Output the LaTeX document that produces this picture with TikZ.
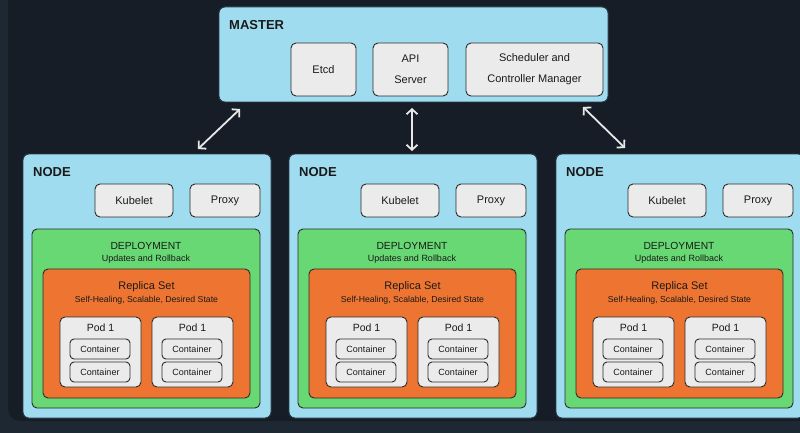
\documentclass[tikz,border=0pt]{standalone}
\usepackage{fontspec}
\setmainfont{Liberation Sans}
\usetikzlibrary{arrows.meta}
\definecolor{bgouter}{HTML}{1E2833}
\definecolor{bgdark}{HTML}{171D26}
\definecolor{skyfill}{HTML}{9FDCF0}
\definecolor{skyline}{HTML}{2A3A46}
\definecolor{greenfill}{HTML}{67D873}
\definecolor{orangefill}{HTML}{EE7431}
\definecolor{grayfill}{HTML}{EBEBEB}
\definecolor{boxline}{HTML}{2B2B2B}
\definecolor{txt}{HTML}{1A1A1A}
\definecolor{arrowcol}{HTML}{E8E8E8}
\tikzset{
  box/.style={anchor=north west, inner sep=0pt, outer sep=0pt, line width=0.9pt, draw=boxline},
  skybox/.style={box, fill=skyfill, draw=skyline, rounded corners=6pt},
  greenbox/.style={box, fill=greenfill, rounded corners=5pt},
  orangebox/.style={box, fill=orangefill, rounded corners=5pt},
  graybox/.style={box, fill=grayfill, rounded corners=5pt},
  ctbox/.style={box, fill=grayfill, rounded corners=4pt, minimum width=60pt, minimum height=20pt, font=\fontsize{9}{10}\selectfont, text=txt},
  title/.style={anchor=west, inner sep=0pt, font=\bfseries\fontsize{13}{15}\selectfont, text=txt},
  lbl/.style={inner sep=0pt, text=txt},
  biarrow/.style={draw=arrowcol, line width=1.8pt, {Straight Barb[length=5pt,width=11pt]}-{Straight Barb[length=5pt,width=11pt]}}
}
\begin{document}
\begin{tikzpicture}[x=1pt,y=-1pt]
\useasboundingbox (0,0) rectangle (800,433);
\clip (0,0) rectangle (800,433);
\fill[bgouter] (0,0) rectangle (800,433);
\fill[bgdark, rounded corners=12pt] (8,-30) -- (8,421) -- (830,421) -- (830,-30) -- cycle;

% MASTER
\node[skybox, minimum width=389pt, minimum height=95pt] (master) at (219,7) {};
\node[title] (mastert) at (229,25) {MASTER};
\node[graybox, minimum width=65pt, minimum height=53pt, font=\fontsize{11}{21}\selectfont, text=txt] (etcd) at (291,43) {Etcd};
\node[graybox, minimum width=75pt, minimum height=53pt, align=center, font=\fontsize{11}{21}\selectfont, text=txt] (api) at (373,43) {API\\Server};
\node[graybox, minimum width=137pt, minimum height=53pt, align=center, font=\fontsize{11}{21}\selectfont, text=txt] (sched) at (466,43) {Scheduler and\\Controller Manager};

% NODES
\foreach \i/\dx in {1/0,2/266,3/533}{
  \node[skybox, minimum width=248pt, minimum height=264pt] (n\i) at ({23+\dx},154) {};
  \node[title] (n\i t) at ({33+\dx},172) {NODE};
  \node[graybox, minimum width=78pt, minimum height=33pt, font=\fontsize{11}{13}\selectfont, text=txt] (n\i k) at ({95+\dx},184) {Kubelet};
  \node[graybox, minimum width=70pt, minimum height=33pt, font=\fontsize{11}{13}\selectfont, text=txt] (n\i p) at ({190+\dx},184) {\raisebox{1pt}{Proxy}};
  \node[greenbox, minimum width=228pt, minimum height=179pt] (n\i d) at ({32+\dx},229) {};
  \node[lbl, font=\fontsize{10.3}{12}\selectfont] (n\i dt) at ({146+\dx},246) {DEPLOYMENT};
  \node[lbl, font=\fontsize{9}{10}\selectfont] (n\i ds) at ({146+\dx},259) {Updates and Rollback};
  \node[orangebox, minimum width=207pt, minimum height=129pt] (n\i r) at ({43+\dx},269) {};
  \node[lbl, font=\fontsize{11}{12}\selectfont] (n\i rt) at ({146.5+\dx},287) {Replica Set};
  \node[lbl, font=\fontsize{8.7}{10}\selectfont] (n\i rs) at ({146.5+\dx},300) {Self-Healing, Scalable, Desired State};
  \foreach \j/\px in {a/0,b/92}{
    \node[graybox, minimum width=81pt, minimum height=70pt] (n\i p\j) at ({60+\dx+\px},317) {};
    \node[lbl, font=\fontsize{10.5}{12}\selectfont] (n\i p\j t) at ({100.5+\dx+\px},328) {Pod 1};
    \node[ctbox] (n\i p\j c1) at ({70+\dx+\px},339) {Container};
    \node[ctbox] (n\i p\j c2) at ({70+\dx+\px},362) {Container};
  }
}

% ARROWS
\coordinate (a1m) at (240,109);
\coordinate (a1n) at (198,149);
\coordinate (a2m) at (412,108);
\coordinate (a2n) at (412,151);
\coordinate (a3m) at (583,107);
\coordinate (a3n) at (625,148);
\draw[biarrow] (a1n) -- (a1m);
\draw[biarrow] (a2n) -- (a2m);
\draw[biarrow] (a3n) -- (a3m);
\end{tikzpicture}
\end{document}
